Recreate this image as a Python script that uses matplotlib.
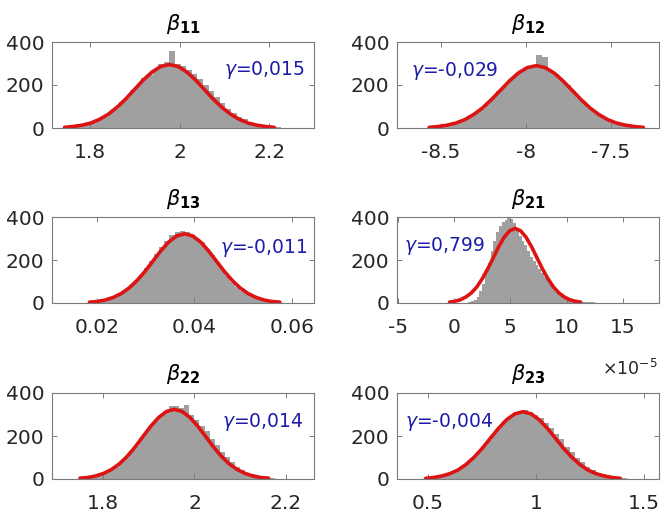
import numpy as np
import matplotlib
matplotlib.use("Agg")
import matplotlib.pyplot as plt

plt.rcParams['font.family'] = ['DejaVu Sans']
plt.rcParams['mathtext.fontset'] = 'dejavusans'
plt.rcParams['axes.unicode_minus'] = False

# ---------------- data ----------------
titles = ['11', '12', '13', '21', '22', '23']
gammas = ['0,015', '-0,029', '-0,011', '0,799', '0,014', '-0,004']

# histogram bin ranges (lo, hi) and counts  (beta_21 in units of 1e-5)
hist_lo = [1.7279, -8.612, 0.0172, 1.0, 1.7362, 0.46]
hist_hi = [2.2271, -7.268, 0.0588, 17.0, 2.1758, 1.42]

counts_11 = [2, 4, 6, 8, 14, 21, 27, 41, 52, 74, 90, 120, 140, 175, 198, 232, 248, 276, 300, 306,
             360, 300, 288, 268, 250, 226, 200, 170, 142, 116, 90, 72, 53, 40, 27, 20, 13, 8, 5, 3]
counts_12 = [2, 3, 6, 9, 12, 21, 27, 40, 50, 72, 88, 118, 138, 172, 195, 226, 246, 270, 280, 292,
             340, 330, 270, 250, 222, 198, 172, 138, 118, 90, 72, 52, 40, 27, 20, 13, 9, 6, 3, 2]
counts_13 = [2, 4, 7, 10, 15, 23, 30, 45, 60, 82, 105, 132, 162, 195, 228, 262, 290, 318, 332, 335,
             330, 318, 300, 282, 250, 225, 190, 160, 124, 98, 74, 56, 40, 30, 20, 13, 9, 6, 4, 2]
counts_21 = [1, 3, 8, 15, 30, 55, 90, 140, 185, 240, 290, 330, 360, 375, 385, 402, 392, 372, 340, 310,
             290, 270, 242, 215, 195, 175, 158, 140, 120, 102, 82, 68, 52, 42, 33, 26, 20, 16, 12, 10,
             8, 6, 5, 4, 3, 3, 2, 2, 2, 1, 2, 1, 1, 1, 1, 0, 1, 1, 0, 1, 0, 0, 1, 0]
counts_22 = [2, 4, 6, 10, 14, 22, 30, 44, 58, 80, 100, 130, 155, 190, 218, 252, 275, 300, 318, 340,
             338, 330, 342, 300, 275, 245, 222, 185, 160, 125, 104, 78, 58, 44, 30, 22, 15, 10, 6, 4]
counts_23 = [2, 4, 6, 9, 15, 20, 31, 42, 58, 74, 100, 122, 154, 180, 214, 240, 270, 288, 306, 318,
             322, 310, 300, 285, 262, 238, 210, 185, 150, 126, 96, 78, 56, 43, 29, 22, 14, 9, 6, 3]
all_counts = [counts_11, counts_12, counts_13, counts_21, counts_22, counts_23]

# fitted normal curve: x range and heights read at 25 evenly spaced points
curve_lo = [1.7435, -8.57, 0.0185, -0.40, 1.750, 0.49]
curve_hi = [2.2115, -7.31, 0.0575, 11.25, 2.162, 1.39]
curve_11 = [3, 7, 13, 23, 40, 64, 96, 135, 179, 223, 260, 286, 295, 286, 260, 223, 179, 135, 96, 64, 40, 23, 13, 7, 3]
curve_12 = [3, 7, 13, 23, 39, 63, 94, 133, 176, 219, 256, 281, 290, 281, 256, 219, 176, 133, 94, 63, 39, 23, 13, 7, 3]
curve_13 = [4, 7, 14, 26, 44, 70, 105, 147, 195, 243, 284, 312, 322, 312, 284, 243, 195, 147, 105, 70, 44, 26, 14, 7, 4]
curve_21 = [4, 8, 15, 28, 47, 75, 113, 159, 210, 262, 306, 336, 347, 336, 306, 262, 210, 159, 113, 75, 47, 28, 15, 8, 4]
curve_22 = [4, 7, 14, 26, 44, 70, 105, 148, 197, 245, 286, 314, 324, 314, 286, 245, 197, 148, 105, 70, 44, 26, 14, 7, 4]
curve_23 = [3, 7, 14, 25, 42, 68, 102, 143, 190, 236, 276, 303, 313, 303, 276, 236, 190, 143, 102, 68, 42, 25, 14, 7, 3]
all_curves = [curve_11, curve_12, curve_13, curve_21, curve_22, curve_23]

# axis limits and ticks
xlims = [(1.7156, 2.30), (-8.759, -7.218), (0.01082, 0.0645), (-5.06, 18.2), (1.689, 2.261), (0.358, 1.569)]
xticks = [[1.8, 2.0, 2.2], [-8.5, -8.0, -7.5], [0.02, 0.04, 0.06], [-5, 0, 5, 10, 15],
          [1.8, 2.0, 2.2], [0.5, 1.0, 1.5]]
xticklabels = [['1.8', '2', '2.2'], ['-8.5', '-8', '-7.5'], ['0.02', '0.04', '0.06'],
               ['-5', '0', '5', '10', '15'], ['1.8', '2', '2.2'], ['0.5', '1', '1.5']]
yticks = [0, 200, 400]
yticklabels = ['0', '200', '400']
exponent_label = r'$\times10^{-5}$'   # multiplier of the beta_21 axis

# ---------------- layout / style ----------------
W, H = 662, 520
col_left = [52, 397]
row_top = [42, 217, 393]
ax_w, ax_h = 262, 86
gamma_pos = [(0.658, 0.62), (0.053, 0.61), (0.64, 0.586), (0.027, 0.60), (0.65, 0.60), (0.03, 0.61)]

gray = '#a0a0a0'
red = '#dc1414'
blue = '#1c1ca8'
axcol = '#7a7a7a'
txtcol = '#262626'

fig = plt.figure(figsize=(W / 100, H / 100), dpi=100)

for i in range(6):
    r, c = divmod(i, 2)
    left = col_left[c] / W
    bottom = 1 - (row_top[r] + ax_h) / H
    ax = fig.add_axes([left, bottom, ax_w / W, ax_h / H])
    cnt = np.array(all_counts[i], dtype=float)
    edges = np.linspace(hist_lo[i], hist_hi[i], len(cnt) + 1)
    ax.stairs(cnt, edges, fill=True, color=gray, linewidth=0)
    cy = np.array(all_curves[i], dtype=float)
    cx = np.linspace(curve_lo[i], curve_hi[i], len(cy))
    ax.plot(cx, cy, color=red, linewidth=2.6, solid_capstyle='round', solid_joinstyle='round')

    ax.set_xlim(*xlims[i])
    ax.set_ylim(0, 400)
    ax.set_yticks(yticks)
    ax.set_yticklabels(yticklabels)
    ax.set_xticks(xticks[i])
    ax.set_xticklabels(xticklabels[i])

    ax.tick_params(direction='in', top=True, right=True, length=3.5, width=0.7,
                   colors=axcol, labelcolor=txtcol, labelsize=14.5)
    ax.tick_params(axis='x', pad=11)
    ax.tick_params(axis='y', pad=5.5)
    for sp in ax.spines.values():
        sp.set_color(axcol)
        sp.set_linewidth(0.8)

    ax.set_title(r'$\beta_{\mathbf{' + titles[i] + '}}$', fontsize=15, color='black', pad=9)
    gx, gy = gamma_pos[i]
    ax.text(gx, gy, r'$\gamma$=' + gammas[i], transform=ax.transAxes, color=blue,
            fontsize=13.5, ha='left', va='baseline')

    if i == 3:
        fig.text(658 / W, 1 - 375 / H, exponent_label, color=txtcol, fontsize=12.5,
                 ha='right', va='baseline')

fig.savefig('out.png', dpi=100)
